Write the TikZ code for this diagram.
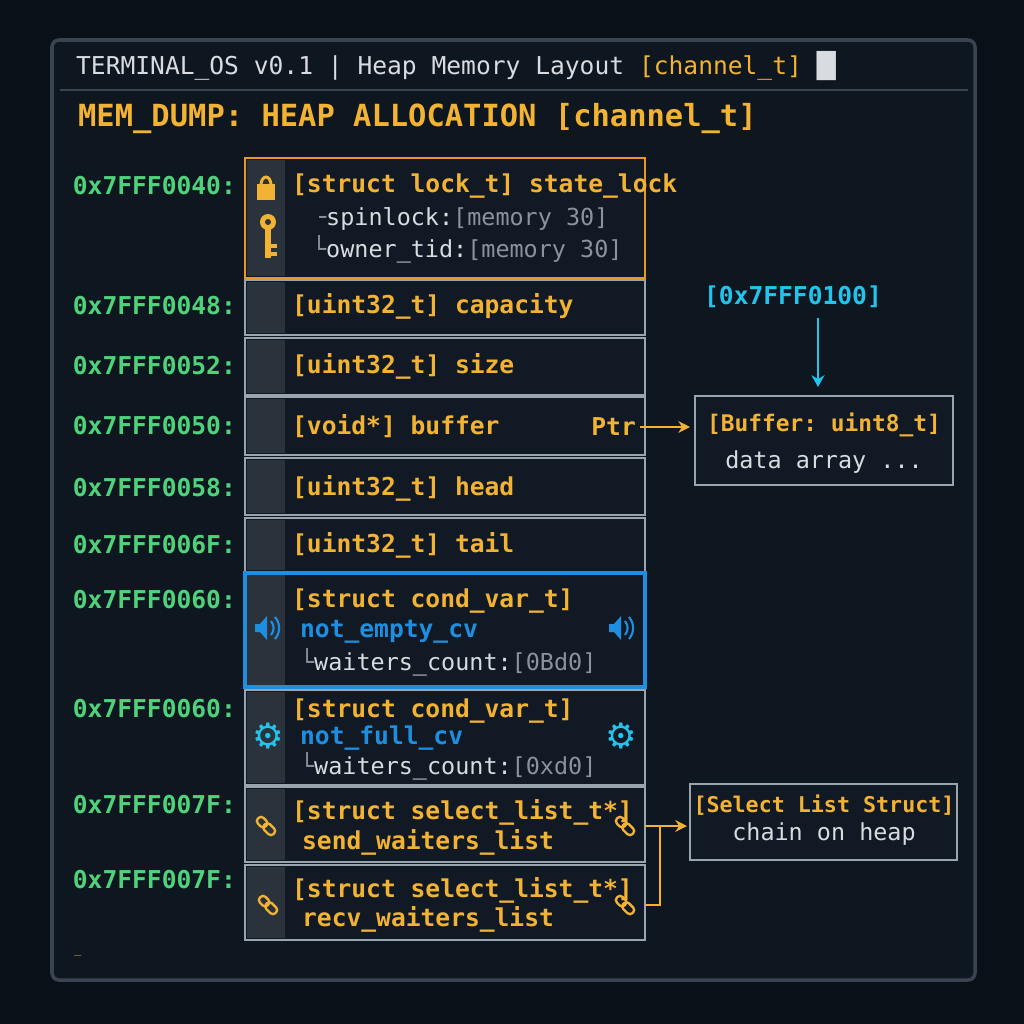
\documentclass[tikz,border=0pt]{standalone}
\usepackage{fontspec}
\setmonofont{DejaVu Sans Mono}
\newfontfamily\symf{DejaVu Sans}
\usetikzlibrary{arrows.meta}
\definecolor{bg}{HTML}{0A1017}
\definecolor{scr}{HTML}{0E1620}
\definecolor{frm}{HTML}{3A4450}
\definecolor{rowc}{HTML}{111A24}
\definecolor{strip}{HTML}{2A323C}
\definecolor{rowb}{HTML}{9AA4AE}
\definecolor{grn}{HTML}{4ED37A}
\definecolor{org}{HTML}{F2B233}
\definecolor{ob}{HTML}{E8982A}
\definecolor{blu}{HTML}{1E8FE0}
\definecolor{cy}{HTML}{22C4EE}
\definecolor{txt}{HTML}{D8DCE0}
\definecolor{dim}{HTML}{8A939C}
\begin{document}
\begin{tikzpicture}[x=0.03cm,y=-0.03cm,font=\ttfamily,
  row/.style={draw=rowb,line width=1.6pt,fill=rowc},
  addr/.style={text=grn,font=\ttfamily\bfseries\fontsize{21}{21}\selectfont,anchor=east},
  lbl/.style={text=org,font=\ttfamily\bfseries\fontsize{21}{21}\selectfont,anchor=west},
  sub/.style={text=txt,font=\ttfamily\fontsize{20}{20}\selectfont,anchor=west},
  conn/.style={draw=org,line width=2pt,-{Stealth[length=10pt,width=10pt]}}]
\fill[bg] (0,0) rectangle (1024,1024);
\fill[scr,draw=frm,line width=3pt,rounded corners=6pt] (52,40) rectangle (975,980);
\draw[frm,line width=1.5pt] (60,90) -- (968,90);
\node[anchor=west,text=txt,font=\ttfamily\fontsize{21}{21}\selectfont] (title) at (72,66) {TERMINAL\_OS v0.1 | Heap Memory Layout \textcolor{org}{[channel\_t]} {\symf █}};
\node[anchor=west,text=org,font=\ttfamily\bfseries\fontsize{26}{26}\selectfont] (head) at (74,119) {MEM\_DUMP: HEAP ALLOCATION [channel\_t]};
% rows
\foreach \a/\b/\n in {280/335/r2,338/395/r3,397/455/r4,458/515/r5,518/572/r6,690/785/r8,787/862/r9,865/940/r10}{
  \draw[row] (245,\a) rectangle (645,\b);
  \fill[strip] (247,\a+2) rectangle (285,\b-2);
  \coordinate (\n) at (245,{(\a+\b)/2});
}
\draw[row,draw=ob,line width=2.2pt] (245,158) rectangle (645,278);
\fill[strip] (247,160) rectangle (285,276);
\draw[row,draw=blu,line width=2.6pt] (245,573) rectangle (645,687);
\fill[strip] (247,575) rectangle (285,685);
% addresses
\node[addr] (a1) at (240,186) {0x7FFF0040:};
\node[addr] (a2) at (240,306) {0x7FFF0048:};
\node[addr] (a3) at (240,366) {0x7FFF0052:};
\node[addr] (a4) at (240,426) {0x7FFF0050:};
\node[addr] (a5) at (240,488) {0x7FFF0058:};
\node[addr] (a6) at (240,545) {0x7FFF006F:};
\node[addr] (a7) at (240,600) {0x7FFF0060:};
\node[addr] (a8) at (240,709) {0x7FFF0060:};
\node[addr] (a9) at (240,805) {0x7FFF007F:};
\node[addr] (a10) at (240,880) {0x7FFF007F:};
% labels
\node[lbl] (l1) at (288,186) {[struct lock\_t] state\_lock};
\node[sub] (l1a) at (308,219) {{\color{dim}╶}spinlock:\textcolor{dim}{[memory 30]}};
\node[sub] (l1b) at (308,249) {{\color{dim}└}owner\_tid:\textcolor{dim}{[memory 30]}};
\node[lbl] (l2) at (288,306) {[uint32\_t] capacity};
\node[lbl] (l3) at (288,366) {[uint32\_t] size};
\node[lbl] (l4) at (288,426) {[void*] buffer};
\node[lbl] (l5) at (288,488) {[uint32\_t] head};
\node[lbl] (l6) at (288,545) {[uint32\_t] tail};
\node[lbl] (l7) at (288,601) {[struct cond\_var\_t]};
\node[lbl,text=blu] (l7a) at (296,632) {not\_empty\_cv};
\node[sub] (l7b) at (296,662) {{\color{dim}└}waiters\_count:\textcolor{dim}{[0Bd0]}};
\node[lbl] (l8) at (288,711) {[struct cond\_var\_t]};
\node[lbl,text=blu] (l8a) at (296,738) {not\_full\_cv};
\node[sub] (l8b) at (296,766) {{\color{dim}└}waiters\_count:\textcolor{dim}{[0xd0]}};
\node[lbl] (l9) at (288,812) {[struct select\_list\_t*]};
\node[lbl] (l9a) at (298,842) {send\_waiters\_list};
\node[lbl] (l10) at (288,890) {[struct select\_list\_t*]};
\node[lbl] (l10a) at (298,919) {recv\_waiters\_list};
% icons
\begin{scope}[org]
\draw[line width=2.5pt] (261,185) arc (180:360:5 and 8);
\fill (257,184) rectangle (275,200);
\fill (268,222) circle (8); \fill[strip] (268,222) circle (3);
\fill (265,228) rectangle (271,258); \fill (271,244) rectangle (277,248); \fill (271,252) rectangle (277,256);
\end{scope}
\foreach \x/\d in {262/1,616/1}{
 \begin{scope}[blu]
 \fill (\x-7*\d,624) -- (\x-2*\d,624) -- (\x+5*\d,616) -- (\x+5*\d,640) -- (\x-2*\d,632) -- (\x-7*\d,632) -- cycle;
 \draw[line width=1.8pt] (\x+9*\d,621) to[bend left=40*\d] (\x+9*\d,635);
 \draw[line width=1.8pt] (\x+13*\d,617) to[bend left=40*\d] (\x+13*\d,639);
 \end{scope}}
\node[text=cy,font=\symf\fontsize{30}{30}\selectfont] (g1) at (268,736) {⚙};
\node[text=cy,font=\symf\fontsize{30}{30}\selectfont] (g2) at (621,736) {⚙};
\foreach \x/\y in {266/826,625/826,268/905,625/905}{
 \draw[org,line width=2pt,rounded corners=3pt,rotate around={-45:(\x,\y)}] (\x-11,\y-4) rectangle (\x,\y+4);
 \draw[org,line width=2pt,rounded corners=3pt,rotate around={-45:(\x,\y)}] (\x-2,\y-4) rectangle (\x+11,\y+4);}
% buffer box
\draw[rowb,line width=2.4pt,fill=rowc] (695,396) rectangle (953,485);
\node[lbl,anchor=center,font=\ttfamily\bfseries\fontsize{19.5}{20}\selectfont] (bt) at (824,425) {[Buffer: uint8\_t]};
\node[sub,anchor=center] (bd) at (824,462) {data array ...};
\coordinate (bin) at (690,427);
\node[text=cy,font=\ttfamily\bfseries\fontsize{21}{21}\selectfont] (bp) at (793,297) {[0x7FFF0100]};
\coordinate (btop) at (818,387);
\draw[cy,line width=2pt,-{Stealth[length=10pt,width=11pt]}] (818,318) -- (btop);
\node[lbl,anchor=east] (ptr) at (640,427) {Ptr};
\draw[conn] (ptr.east) -- (bin);
% select box
\draw[rowb,line width=2.4pt,fill=rowc] (690,784) rectangle (957,860);
\node[lbl,anchor=center,font=\ttfamily\bfseries\fontsize{18.5}{19}\selectfont] (st) at (824,805) {[Select List Struct]};
\node[sub,anchor=center] (sd) at (824,834) {chain on heap};
\coordinate (sin) at (687,826);
\draw[org,line width=2pt] (645,905) -- (660,905) -- (660,826);
\draw[conn] (645,826) -- (sin);
\node[text=org] (cur) at (78,955) {\_};
\end{tikzpicture}
\end{document}
